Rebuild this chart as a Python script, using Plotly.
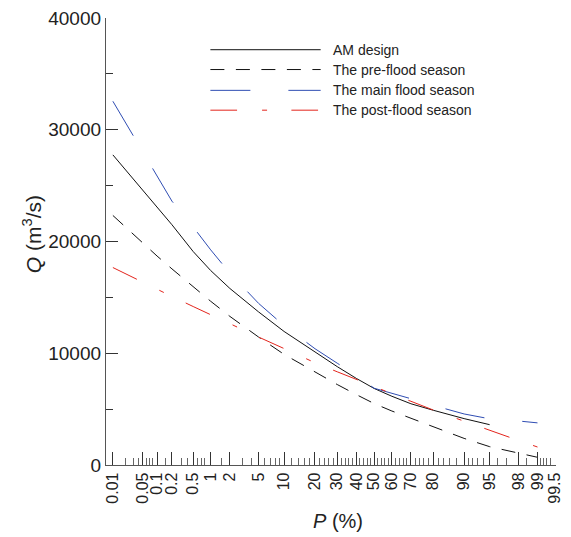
from statistics import NormalDist
import plotly.graph_objects as go

# Exceedance probability (%) and design discharge Q (m3/s) for each series
P_AM = [0.01, 0.05, 0.1, 0.2, 0.5, 1, 2, 5, 10, 20, 30, 40, 50, 60, 70, 80, 90, 95]
Q_AM = [27750, 24600, 23100, 21500, 19100, 17400, 15800, 13700, 11950, 10100,
        8800, 7750, 6850, 6150, 5480, 4900, 4150, 3610]

P_PRE = [0.01, 0.05, 0.1, 0.2, 0.5, 1, 2, 5, 10, 20, 30, 40, 50, 60, 70, 80, 90, 95, 98, 99]
Q_PRE = [22330, 19800, 18700, 17550, 15950, 14650, 13300, 11450, 9900, 8300,
         7200, 6300, 5500, 4830, 4170, 3400, 2380, 1640, 1050, 690]

P_MAIN = [0.01, 0.05, 0.1, 0.2, 0.5, 1, 2, 5, 10, 20, 30, 40, 50, 60, 70, 80, 90, 95, 97, 98, 99]
Q_MAIN = [32550, 28000, 25980, 23610, 21300, 19250, 17170, 14465, 12470, 10406,
          9108, 8012, 6870, 6430, 5932, 5333, 4567, 4135, 4050, 3940, 3770]

P_POST = [0.01, 0.05, 0.1, 0.2, 0.5, 1, 2, 5, 10, 20, 30, 40, 50, 60, 70, 80, 90, 95, 98, 99]
Q_POST = [17670, 16330, 15720, 15080, 14180, 13440, 12640, 11450, 10420, 9150,
          8340, 7680, 7030, 6370, 5690, 4920, 3920, 3090, 2200, 1610]

# Probability-paper tick marks
TICK_P = [0.01, 0.05, 0.1, 0.2, 0.5, 1, 2, 5, 10, 20, 30, 40, 50, 60, 70, 80, 90, 95, 98, 99, 99.5]
TICK_TEXT = ["0.01", "0.05", "0.1", "0.2", "0.5", "1", "2", "5", "10", "20", "30", "40",
             "50", "60", "70", "80", "90", "95", "98", "99", "99.5"]
MINOR_P = ([0.02, 0.03, 0.04, 0.06, 0.07, 0.08, 0.15, 0.3, 0.4, 0.6, 0.7, 0.8, 1.5, 3, 4,
            6, 7, 8, 9] + list(range(12, 90, 2)) + [91, 92, 93, 94, 96, 97, 98.5,
            99.1, 99.2, 99.3, 99.4])
MINOR_P = [p for p in MINOR_P if p not in TICK_P]

# Discharge axis ticks
Y_TICKS = [0, 10000, 20000, 30000, 40000]
Y_TICK_TEXT = ["0", "10000", "20000", "30000", "40000"]
Y_MINOR = [5000, 15000, 25000, 35000]

nd = NormalDist()


def zq(p):
    """Standard normal quantile of a probability given in percent."""
    return nd.inv_cdf(p / 100.0)


FONT = "Liberation Sans, Arial, Helvetica, sans-serif"
BLACK = "#111111"
BLUE = "#2f4db3"
RED = "#e3241c"

series = [
    ("AM design", P_AM, Q_AM, BLACK, "solid"),
    ("The pre-flood season", P_PRE, Q_PRE, BLACK, "14px,11.5px"),
    ("The main flood season", P_MAIN, Q_MAIN, BLUE, "40px,38px"),
    ("The post-flood season", P_POST, Q_POST, RED, "26.7px,25px,5px,24.3px"),
]

fig = go.Figure()
for name, p, q, color, dash in series:
    fig.add_trace(go.Scatter(
        x=[zq(v) for v in p], y=q, mode="lines", name=name,
        line=dict(color=color, width=1, dash=dash), showlegend=False,
    ))

# plot area geometry in pixels
W, H = 571, 537
L, R, T, B = 106, 8, 14, 72
PW, PH = W - L - R, H - T - B


def px(xp):
    return (xp - L) / PW


def py(yp):
    return (T + PH - yp) / PH


# hand-drawn legend: long line samples and labels
leg_rows = [46, 66, 87, 107]
shapes = []
annotations = []
for (name, _, _, color, dash), yrow in zip(series, leg_rows):
    shapes.append(dict(type="line", xref="paper", yref="paper",
                       x0=px(212), x1=px(324), y0=py(yrow), y1=py(yrow),
                       line=dict(color=color, width=1, dash=dash)))
    annotations.append(dict(text=name, xref="paper", yref="paper",
                            x=px(335), y=py(yrow), xanchor="left", yanchor="middle",
                            showarrow=False, font=dict(family=FONT, size=14, color="#222")))

annotations.append(dict(text="<i>Q</i> (m<sup>3</sup>/s)", xref="paper", yref="paper",
                        x=px(31), y=py(232), textangle=-90, xanchor="center",
                        yanchor="middle", showarrow=False,
                        font=dict(family=FONT, size=21, color="#222")))
annotations.append(dict(text="<i>P</i> (%)", xref="paper", yref="paper",
                        x=px(342), y=py(521), xanchor="center", yanchor="middle",
                        showarrow=False, font=dict(family=FONT, size=20, color="#222")))

AXIS = "#555555"
TICKC = "#333333"

fig.update_layout(
    width=W, height=H,
    margin=dict(l=L, r=R, t=T, b=B, pad=0),
    paper_bgcolor="white", plot_bgcolor="white",
    shapes=shapes, annotations=annotations,
    xaxis=dict(
        range=[zq(0.01) - 7 / 71.33, zq(99.5) + 1 / 71.33],
        showgrid=False, zeroline=False,
        showline=True, linecolor=AXIS, linewidth=1.3,
        tickmode="array", tickvals=[zq(v) for v in TICK_P], ticktext=TICK_TEXT,
        ticks="inside", ticklen=13, tickwidth=1, tickcolor=TICKC,
        tickangle=-90, tickfont=dict(family=FONT, size=16, color="#222"),
        minor=dict(tickmode="array", tickvals=[zq(v) for v in MINOR_P],
                   ticks="inside", ticklen=7, tickwidth=1, tickcolor="#666666",
                   showgrid=False),
    ),
    yaxis=dict(
        range=[0, 40000], showgrid=False, zeroline=False,
        showline=True, linecolor=AXIS, linewidth=1.3,
        tickmode="array", tickvals=Y_TICKS, ticktext=Y_TICK_TEXT,
        ticks="inside", ticklen=12, tickwidth=1, tickcolor=TICKC,
        tickfont=dict(family=FONT, size=19, color="#222"),
        minor=dict(tickmode="array", tickvals=Y_MINOR,
                   ticks="inside", ticklen=7, tickwidth=1, tickcolor=TICKC,
                   showgrid=False),
    ),
)

fig.write_html("out.html")
